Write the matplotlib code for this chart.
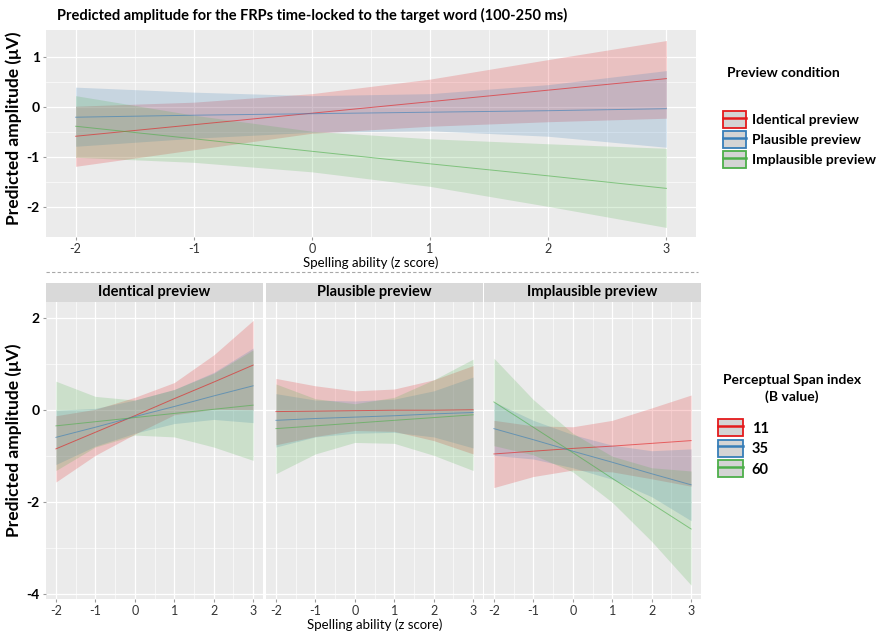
import numpy as np
import matplotlib
matplotlib.use("Agg")
from matplotlib import pyplot as plt
from matplotlib.patches import Patch, Rectangle
from matplotlib.lines import Line2D
from matplotlib.legend_handler import HandlerTuple

plt.rcParams['font.family'] = ['Lato', 'DejaVu Sans']

# spelling ability (z score) where values were read
x_pts = [-2, -1, 0, 1, 2, 3]

# ---- top panel: preview condition ----
conditions = ['Identical preview', 'Plausible preview', 'Implausible preview']
top_fit = {
    'Identical preview': [-0.58, -0.35, -0.12, 0.11, 0.34, 0.57],
    'Plausible preview': [-0.20, -0.16, -0.13, -0.10, -0.07, -0.03],
    'Implausible preview': [-0.38, -0.63, -0.88, -1.13, -1.37, -1.62],
}
top_lo = {
    'Identical preview': [-1.18, -0.85, -0.52, -0.38, -0.29, -0.22],
    'Plausible preview': [-0.78, -0.62, -0.50, -0.47, -0.58, -0.80],
    'Implausible preview': [-1.00, -1.10, -1.29, -1.58, -1.98, -2.40],
}
top_hi = {
    'Identical preview': [0.02, 0.10, 0.27, 0.56, 0.95, 1.33],
    'Plausible preview': [0.40, 0.30, 0.23, 0.27, 0.45, 0.73],
    'Implausible preview': [0.23, -0.16, -0.48, -0.63, -0.73, -0.82],
}

# ---- bottom panels: perceptual span index per preview condition ----
span_vals = ['11', '35', '60']
bot_fit = {
    'Identical preview': {
        '11': [-0.84, -0.48, -0.12, 0.25, 0.61, 0.98],
        '35': [-0.59, -0.37, -0.14, 0.08, 0.31, 0.53],
        '60': [-0.34, -0.25, -0.16, -0.07, 0.02, 0.11],
    },
    'Plausible preview': {
        '11': [-0.03, -0.02, -0.01, 0.00, 0.00, 0.01],
        '35': [-0.22, -0.18, -0.15, -0.12, -0.08, -0.05],
        '60': [-0.40, -0.34, -0.28, -0.22, -0.16, -0.10],
    },
    'Implausible preview': {
        '11': [-0.95, -0.89, -0.83, -0.78, -0.72, -0.66],
        '35': [-0.40, -0.64, -0.89, -1.13, -1.38, -1.62],
        '60': [0.18, -0.37, -0.92, -1.48, -2.03, -2.58],
    },
}
bot_lo = {
    'Identical preview': {
        '11': [-1.56, -0.98, -0.52, -0.10, 0.02, 0.01],
        '35': [-1.18, -0.78, -0.50, -0.29, -0.20, -0.27],
        '60': [-1.31, -0.80, -0.54, -0.58, -0.80, -1.09],
    },
    'Plausible preview': {
        '11': [-0.75, -0.57, -0.44, -0.46, -0.66, -0.95],
        '35': [-0.80, -0.58, -0.50, -0.48, -0.58, -0.82],
        '60': [-1.38, -0.95, -0.70, -0.72, -0.98, -1.31],
    },
    'Implausible preview': {
        '11': [-1.68, -1.44, -1.30, -1.34, -1.49, -1.65],
        '35': [-0.98, -1.06, -1.25, -1.50, -1.88, -2.40],
        '60': [-0.77, -0.97, -1.34, -2.00, -2.85, -3.80],
    },
}
bot_hi = {
    'Identical preview': {
        '11': [-0.12, 0.02, 0.28, 0.60, 1.20, 1.95],
        '35': [0.00, 0.04, 0.22, 0.45, 0.82, 1.35],
        '60': [0.63, 0.30, 0.22, 0.45, 0.80, 1.31],
    },
    'Plausible preview': {
        '11': [0.69, 0.53, 0.42, 0.46, 0.66, 0.97],
        '35': [0.36, 0.22, 0.20, 0.24, 0.42, 0.72],
        '60': [0.57, 0.25, 0.14, 0.28, 0.66, 1.11],
    },
    'Implausible preview': {
        '11': [-0.22, -0.34, -0.36, -0.22, 0.05, 0.33],
        '35': [0.18, -0.22, -0.53, -0.76, -0.88, -0.84],
        '60': [1.13, 0.23, -0.50, -1.00, -1.25, -1.32],
    },
}

colors = ['#e41a1c', '#377eb8', '#4daf4a']
bg = '#ebebeb'


def style_panel(ax, ylim, ymajor, yminor):
    ax.set_facecolor(bg)
    ax.set_xlim(-2.25, 3.25)
    ax.set_ylim(*ylim)
    ax.set_xticks(x_pts)
    ax.set_xticks(np.arange(-1.5, 3, 1.0), minor=True)
    ax.set_yticks(ymajor)
    ax.set_yticks(yminor, minor=True)
    ax.grid(which='major', color='white', lw=0.9)
    ax.grid(which='minor', color='white', lw=0.45)
    ax.set_axisbelow(True)
    for s in ax.spines.values():
        s.set_visible(False)
    ax.tick_params(which='major', length=2.5, color='#9a9a9a', labelsize=9,
                   labelcolor='#333333', pad=2)
    ax.tick_params(which='minor', length=0)
    ax.set_xticklabels([str(v) for v in x_pts])


def draw_series(ax, fit, lo, hi, col):
    ax.fill_between(x_pts, lo, hi, color=col, alpha=0.2, lw=0)
    ax.plot(x_pts, fit, color=col, lw=0.7, alpha=0.6)


fig = plt.figure(figsize=(8.86, 6.33), dpi=100)

# top panel
ax_top = fig.add_axes([46 / 886, 1 - 237 / 633, 650 / 886, 207 / 633])
style_panel(ax_top, (-2.59, 1.54), [-2, -1, 0, 1], [-1.5, -0.5, 0.5])
for cond, col in zip(conditions, colors):
    draw_series(ax_top, top_fit[cond], top_lo[cond], top_hi[cond], col)
ax_top.set_yticklabels(['-2', '-1', '0', '1'], fontweight='bold', color='black',
                       fontsize=10)
ax_top.set_xlabel('Spelling ability (z score)', fontsize=9.5, labelpad=1)

fig.text(57 / 886, 1 - 15 / 633,
         'Predicted amplitude for the FRPs time-locked to the target word (100-250 ms)',
         fontsize=10.5, fontweight='bold', va='center', ha='left')
fig.text(14 / 886, 1 - 128 / 633, 'Predicted amplitude (\u03bcV)', rotation=90,
         fontsize=12.5, fontweight='bold', va='center', ha='center')

# dashed separator
fig.add_artist(Line2D([46 / 886, 698 / 886], [1 - 272 / 633, 1 - 272 / 633],
                      color='#a8a8a8', lw=0.8, ls=(0, (3, 2))))

# bottom facets
panel_left = [46, 266, 484]
bot_axes = []
for i, cond in enumerate(conditions):
    ax = fig.add_axes([panel_left[i] / 886, 1 - 599 / 633, 217 / 886, 297 / 633])
    style_panel(ax, (-4.1, 2.35), [-4, -2, 0, 2], [-3, -1, 1])
    for sp, col in zip(span_vals, colors):
        draw_series(ax, bot_fit[cond][sp], bot_lo[cond][sp], bot_hi[cond][sp], col)
    if i == 0:
        ax.set_yticklabels(['-4', '-2', '0', '2'], fontweight='bold', color='black',
                           fontsize=10)
    else:
        ax.tick_params(axis='y', length=0, labelleft=False)
    # facet strip
    ax.add_patch(Rectangle((0, 1), 1, 19 / 297, transform=ax.transAxes,
                           facecolor='#d9d9d9', edgecolor='none', clip_on=False))
    ax.text(0.5, 1 + 9.5 / 297, cond, transform=ax.transAxes, ha='center',
            va='center', fontsize=10.5, fontweight='bold')
    bot_axes.append(ax)

bot_axes[1].set_xlabel('Spelling ability (z score)', fontsize=9.5, labelpad=1)
fig.text(14 / 886, 1 - 440 / 633, 'Predicted amplitude (\u03bcV)', rotation=90,
         fontsize=12.5, fontweight='bold', va='center', ha='center')

# legends: grey key box with coloured border and a coloured line through it
def key_handles():
    return [(Patch(facecolor='#d4d4d4', edgecolor=c, lw=1.3),
             Line2D([], [], color=c, lw=1.8)) for c in colors]


fig.text(783 / 886, 1 - 73 / 633, 'Preview condition', fontsize=10,
         fontweight='bold', ha='center', va='center')
fig.legend(key_handles(), conditions, loc='upper left',
           bbox_to_anchor=(710 / 886, 1 - 99 / 633), frameon=False,
           handler_map={tuple: HandlerTuple(ndivide=1, pad=0)},
           handlelength=1.7, handleheight=1.45, labelspacing=0.25,
           handletextpad=0.45, prop={'weight': 'bold', 'size': 10})

fig.text(792 / 886, 1 - 380 / 633, 'Perceptual Span index', fontsize=10,
         fontweight='bold', ha='center', va='center')
fig.text(792 / 886, 1 - 397 / 633, '(B value)', fontsize=10,
         fontweight='bold', ha='center', va='center')
fig.legend(key_handles(), span_vals, loc='upper left',
           bbox_to_anchor=(705 / 886, 1 - 406 / 633), frameon=False,
           handler_map={tuple: HandlerTuple(ndivide=1, pad=0)},
           handlelength=1.7, handleheight=1.45, labelspacing=0.22,
           handletextpad=0.6, prop={'weight': 'bold', 'size': 10.5})

plt.savefig('out.png', dpi=100)
plt.close()
